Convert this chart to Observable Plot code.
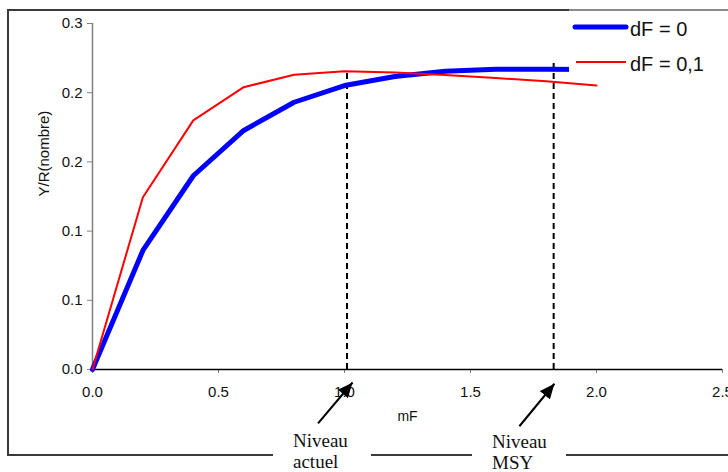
<!DOCTYPE html>
<html>
<head>
<meta charset="utf-8">
<script src="https://cdn.jsdelivr.net/npm/d3@7"></script>
<script src="https://cdn.jsdelivr.net/npm/@observablehq/plot@0.6"></script>
<style>
  body { margin: 0; background: #fff; }
  #wrap { position: relative; width: 728px; height: 472px; overflow: hidden; background: #fff; }
  #outer { position: absolute; left: 7px; top: 9px; width: 760px; height: 443px; border: 2px solid #3a3a3a; }
  #chart { position: absolute; left: 0; top: 0; }
  #legend { position: absolute; left: 569px; top: 9px; width: 180px; height: 67px; background: #fff; border-top: 2px solid #8a8a8a; }
  .note { position: absolute; background: #fff; font-family: "Liberation Serif", "Times New Roman", serif; font-size: 19px; line-height: 21px; color: #111; }
</style>
</head>
<body>
<div id="wrap">
  <div id="outer"></div>
  <div id="chart"></div>
  <div id="legend"></div>
  <div class="note" id="note0" style="left:273px; top:430px; width:78px; height:50px; padding-left:20px;"></div>
  <div class="note" id="note1" style="left:472px; top:431px; width:74px; height:50px; padding-left:20px;"></div>
</div>
<script>
// ---- data ----
const mF = [0, 0.2, 0.4, 0.6, 0.8, 1.0, 1.2, 1.4, 1.6, 1.8, 2.0];
const yDF0 = [0, 0.086, 0.140, 0.1727, 0.1931, 0.2052, 0.2117, 0.2155, 0.2170, 0.2170, 0.2168];
const yDF01 = [0, 0.1245, 0.180, 0.204, 0.213, 0.2155, 0.2146, 0.2128, 0.2106, 0.2082, 0.2052];
const seriesNames = ["dF = 0", "dF = 0,1"];
const seriesColors = ["#0000ff", "#ff0000"];
const xTicks = [0, 0.5, 1.0, 1.5, 2.0, 2.5];
const xTickLabels = ["0.0", "0.5", "1.0", "1.5", "2.0", "2.5"];
const yTicks = [0, 0.05, 0.10, 0.15, 0.20, 0.25];
const yTickLabels = ["0.0", "0.1", "0.1", "0.2", "0.2", "0.3"];
const xTitle = "mF";
const yTitle = "Y/R(nombre)";
// reference levels (dashed verticals) and their annotations
const refX = [1.01, 1.83];
const refTop = [0.2155, 0.222];
const refLines = [["Niveau", "actuel"], ["Niveau", "MSY"]];
const arrowFromX = [0.895, 1.694];
const arrowFromY = [-0.039, -0.041];
const arrowToX = [1.032, 1.833];
const arrowToY = [-0.0094, -0.0103];

// ---- build tables ----
const rows0 = mF.map((x, i) => ({mF: x, y: yDF0[i]}));
const rows1 = mF.map((x, i) => ({mF: x, y: yDF01[i]}));
const refs = refX.map((x, i) => ({x, top: refTop[i]}));
const arrows = refX.map((_, i) => ({x1: arrowFromX[i], y1: arrowFromY[i], x2: arrowToX[i], y2: arrowToY[i]}));

const plot = Plot.plot({
  width: 728,
  height: 472,
  marginLeft: 92,
  marginRight: 6,
  marginTop: 23,
  marginBottom: 103,
  style: {background: "transparent", fontFamily: "'Liberation Sans', Arial, sans-serif", fontSize: "15px", color: "#111", overflow: "visible"},
  x: {domain: [0, 2.5]},
  y: {domain: [0, 0.25]},
  marks: [
    Plot.axisY(yTicks, {tickSize: 5, tickPadding: 5, tickFormat: d => yTickLabels[yTicks.indexOf(d)], stroke: "#808080", fill: "#111", label: null}),
    Plot.axisX(xTicks, {tickSize: 4, tickPadding: 13, tickFormat: d => xTickLabels[xTicks.indexOf(d)], stroke: "#808080", fill: "#111", label: null}),
    Plot.ruleX([0], {stroke: "#808080", strokeWidth: 1.5}),
    Plot.ruleY([0], {stroke: "#000", strokeWidth: 1.5}),
    Plot.ruleX(refs, {x: "x", y1: 0, y2: "top", stroke: "#000", strokeWidth: 2, strokeDasharray: "6,4"}),
    Plot.line(rows0, {x: "mF", y: "y", stroke: seriesColors[0], strokeWidth: 5, strokeLinejoin: "round"}),
    Plot.line(rows1, {x: "mF", y: "y", stroke: seriesColors[1], strokeWidth: 2, strokeLinejoin: "round"}),
    Plot.link(arrows, {x1: "x1", y1: "y1", x2: "x2", y2: "y2", stroke: "#000", strokeWidth: 2, clip: false}),
    Plot.text([yTitle], {frameAnchor: "left", dx: -48, rotate: -90, fontSize: 15, fill: "#111"}),
    Plot.text([xTitle], {frameAnchor: "bottom", dy: 51.5, fontSize: 14, fill: "#111"})
  ]
});
plot.setAttribute("class", (plot.getAttribute("class") || "") + " plot");
// filled arrowheads on the annotation links
const svgNS = "http://www.w3.org/2000/svg";
const defs = document.createElementNS(svgNS, "defs");
const marker = document.createElementNS(svgNS, "marker");
marker.setAttribute("id", "ahead");
marker.setAttribute("markerUnits", "userSpaceOnUse");
marker.setAttribute("markerWidth", "16");
marker.setAttribute("markerHeight", "14");
marker.setAttribute("refX", "15");
marker.setAttribute("refY", "7");
marker.setAttribute("orient", "auto");
const mp = document.createElementNS(svgNS, "path");
mp.setAttribute("d", "M0,0.5 L15,7 L0,13.5 Z");
mp.setAttribute("fill", "#000");
marker.appendChild(mp);
defs.appendChild(marker);
plot.insertBefore(defs, plot.firstChild);
plot.querySelectorAll('g[aria-label="link"] path, g[aria-label="link"] line').forEach(p => p.setAttribute("marker-end", "url(#ahead)"));
document.getElementById("chart").appendChild(plot);

// legend
const lg = d3.select("#legend").append("svg").attr("width", 180).attr("height", 67)
  .style("font-family", "'Liberation Sans', Arial, sans-serif");
seriesNames.forEach((name, i) => {
  const yy = i === 0 ? 16 : 51;
  lg.append("line").attr("x1", i === 0 ? 6 : 7).attr("x2", 57).attr("y1", yy).attr("y2", yy)
    .attr("stroke", seriesColors[i]).attr("stroke-width", i === 0 ? 5 : 2).attr("stroke-linecap", i === 0 ? "round" : "butt");
  lg.append("text").attr("x", 61).attr("y", yy + 9).attr("font-size", 20).attr("fill", "#111").text(name);
});

// annotation labels
refLines.forEach((lines, i) => {
  document.getElementById("note" + i).innerHTML = lines.join("<br>");
});
</script>
</body>
</html>
